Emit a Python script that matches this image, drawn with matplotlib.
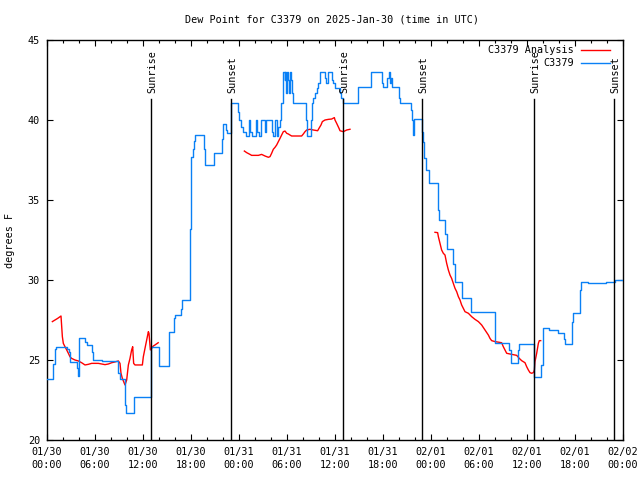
import matplotlib
matplotlib.use("Agg")
import matplotlib.pyplot as plt
import numpy as np

# ---------------- data (hours since 2025-01-30 00:00 UTC) ----------------
blue_hours = [0.0, 0.8, 0.95, 1.1, 2.5, 2.7, 2.9, 3.7, 3.85, 4.05, 4.8, 5.0, 5.6, 5.8,
              6.9, 8.9, 9.1, 9.75, 9.9, 10.9, 12.95, 13.05, 13.95, 15.25, 15.9, 16.0,
              16.7, 16.9, 17.9, 18.0, 18.2, 18.35, 18.55, 19.6, 19.75, 20.9, 21.9, 22.0,
              22.35, 22.5, 22.95, 23.05,
              23.9, 24.05, 24.3, 24.5, 24.85, 25.2, 25.4, 25.6, 26.1, 26.3, 26.5, 26.8,
              27.2, 27.35, 28.1, 28.3, 28.5, 28.7, 28.9, 29.1, 29.3, 29.5,
              29.7, 29.8, 29.9, 30.05, 30.15, 30.3, 30.4, 30.55, 30.65, 30.8, 30.95,
              32.4, 32.5, 32.95, 33.1, 33.3, 33.5, 33.7, 33.9, 34.1, 34.75, 34.9, 35.1,
              35.65, 35.8, 36.0, 36.6, 36.8, 37.05, 38.85, 40.45, 41.85, 42.0, 42.55,
              42.7, 42.85, 42.95, 43.1, 43.95, 44.1, 45.5, 45.6, 45.75, 45.9,
              46.85, 47.0, 47.15, 47.35, 47.75, 48.85, 49.05, 49.8, 50.0, 50.75, 50.95,
              51.85, 52.95, 55.95, 57.8, 57.95, 58.85, 58.95, 60.85, 61.8, 61.95,
              62.8, 63.85, 64.6, 64.75, 65.65, 65.8, 66.65, 66.8, 67.6, 69.9, 71.0, 72.0]
blue_dewpt = [23.8, 24.75, 25.7, 25.8, 25.7, 25.5, 24.9, 24.5, 24.0, 26.35, 26.1, 25.95, 25.5, 25.0,
              24.95, 24.2, 23.8, 22.2, 21.67, 22.67, 25.83, 25.83, 24.6, 26.77, 27.6, 27.8,
              28.2, 28.75, 33.2, 37.7, 38.2, 38.7, 39.06, 38.2, 37.19, 37.96, 38.8, 39.75,
              39.4, 39.2, 40.5, 41.04,
              40.52, 40.0, 39.58, 39.27, 39.02, 40.0, 39.27, 39.02, 40.0, 39.27, 39.02, 40.0,
              39.27, 40.0, 39.27, 39.02, 40.0, 39.02, 39.58, 40.0, 41.04, 43.0,
              42.5, 43.0, 41.7, 43.0, 42.5, 41.7, 43.0, 42.5, 41.7, 41.04, 41.04,
              40.0, 39.02, 40.0, 41.04, 41.35, 41.67, 41.98, 42.3, 43.0, 42.6, 42.3, 43.0,
              42.5, 42.3, 41.98, 41.67, 41.35, 41.04, 42.08, 43.02, 42.3, 42.08, 42.6,
              43.0, 42.3, 42.6, 42.08, 41.35, 41.04, 40.6, 40.0, 39.06, 40.04,
              39.27, 38.6, 37.6, 36.9, 36.04, 34.4, 33.75, 32.9, 31.92, 31.0, 29.85,
              28.85, 27.98, 26.04, 25.6, 24.8, 25.6, 26.0, 23.96, 24.69, 26.98,
              26.875, 26.67, 26.3, 26.0, 27.4, 27.92, 29.375, 29.85, 29.8, 29.85, 30.0, 30.0]

red1_hours = [0.67, 1.0, 1.33, 1.75, 1.92, 2.04, 2.25, 2.46, 2.67, 2.875, 3.08, 3.5, 3.92,
              4.33, 4.75, 5.17, 5.58, 6.42, 7.25, 7.67, 8.08, 8.5, 8.92, 9.125, 9.25, 9.42,
              9.75, 9.96, 10.17, 10.375, 10.58, 10.71, 10.83, 11.0, 11.92, 12.04, 12.25,
              12.46, 12.67, 12.75, 12.92, 13.08, 13.29, 13.5, 13.9]
red1_dewpt = [27.4, 27.5, 27.6, 27.75, 26.46, 26.04, 25.83, 25.63, 25.42, 25.2, 25.1, 25.0, 24.94,
              24.83, 24.69, 24.73, 24.79, 24.79, 24.71, 24.75, 24.83, 24.88, 24.94, 24.79, 24.17, 23.85,
              23.44, 23.75, 24.69, 25.1, 25.63, 25.83, 24.79, 24.69, 24.69, 25.2, 25.73,
              26.25, 26.77, 26.67, 25.63, 25.73, 25.875, 25.94, 26.08]

red2_hours = [24.67, 24.96, 25.375, 25.58, 26.42, 26.83, 27.25, 27.67, 27.875, 28.08, 28.29,
              28.5, 28.71, 28.92, 29.125, 29.33, 29.54, 29.75, 29.96, 30.17, 30.375, 30.58,
              31.83, 32.04, 32.25, 32.46, 32.875, 33.29, 33.83, 34.0, 34.25, 34.42, 34.75,
              35.17, 35.58, 35.92, 36.0, 36.21, 36.5, 36.625, 37.04, 37.46, 37.875]
red2_dewpt = [38.06, 37.96, 37.85, 37.79, 37.79, 37.85, 37.75, 37.67, 37.71, 37.92, 38.17,
              38.29, 38.44, 38.65, 38.85, 39.06, 39.27, 39.31, 39.17, 39.125, 39.06, 39.0,
              39.0, 39.125, 39.27, 39.375, 39.42, 39.375, 39.33, 39.48, 39.69, 39.9, 40.0,
              40.04, 40.06, 40.15, 40.0, 39.79, 39.48, 39.33, 39.27, 39.375, 39.42]

red3_hours = [48.5, 48.83, 48.92, 49.125, 49.33, 49.54, 49.75, 49.96, 50.17, 50.375, 50.58,
              50.79, 51.0, 51.21, 51.42, 51.625, 51.83, 52.04, 52.25, 52.67, 53.08, 53.5,
              53.92, 54.33, 54.75, 55.17, 55.375, 55.58, 56.0, 56.83, 57.04, 57.25, 57.46,
              57.875, 58.71, 59.04, 59.33, 59.75, 59.96, 60.17, 60.375, 60.58, 60.79,
              60.92, 61.0, 61.21, 61.42, 61.54, 61.71]
red3_dewpt = [32.98, 32.96, 32.71, 32.29, 31.875, 31.67, 31.56, 31.04, 30.625, 30.31, 30.1,
              29.79, 29.48, 29.27, 28.96, 28.75, 28.44, 28.23, 28.02, 27.92, 27.71, 27.54,
              27.4, 27.19, 26.875, 26.56, 26.35, 26.21, 26.15, 26.08, 25.83, 25.625, 25.42,
              25.375, 25.29, 25.1, 24.96, 24.83, 24.58, 24.375, 24.21, 24.17, 24.21,
              24.375, 24.9, 25.42, 26.04, 26.21, 26.21]

sun_labels = ["Sunrise", "Sunset", "Sunrise", "Sunset", "Sunrise", "Sunset"]
sun_hours = [13.04, 23.04, 37.04, 46.9, 60.9, 70.9]

xtick_hours = list(range(0, 73, 6))
xtick_labels = ["01/30\n00:00", "01/30\n06:00", "01/30\n12:00", "01/30\n18:00",
                "01/31\n00:00", "01/31\n06:00", "01/31\n12:00", "01/31\n18:00",
                "02/01\n00:00", "02/01\n06:00", "02/01\n12:00", "02/01\n18:00",
                "02/02\n00:00"]
ytick_vals = [20, 25, 30, 35, 40, 45]

# ---------------- figure ----------------
FONT = "DejaVu Sans Mono"
FS = 7.3
plt.rcParams["font.family"] = [FONT]

fig = plt.figure(figsize=(6.4, 4.8), dpi=100)
ax = fig.add_axes([47 / 640, 40 / 480, 576 / 640, 400 / 480])

RED = "#ff0000"
BLUE = "#0a80f5"

for hh, vv in [(red1_hours, red1_dewpt), (red2_hours, red2_dewpt), (red3_hours, red3_dewpt)]:
    ax.plot(hh, vv, color=RED, lw=1.0, zorder=3)
ax.plot(blue_hours, blue_dewpt, color=BLUE, lw=1.0, drawstyle="steps-post", zorder=3)

for lab, h in zip(sun_labels, sun_hours):
    ax.plot([h, h], [0, 0.8525], color="black", lw=1.0,
            transform=ax.get_xaxis_transform(), zorder=4)
    ax.text(h + 0.15, 0.868, lab, rotation=90, ha="center", va="bottom",
            transform=ax.get_xaxis_transform(), fontsize=FS, family=FONT)

ax.set_xlim(0, 72)
ax.set_ylim(20, 45)
ax.set_xticks(xtick_hours)
ax.set_xticklabels(xtick_labels, fontsize=FS, linespacing=1.35, family=FONT)
ax.set_xticks(np.arange(0, 73, 2), minor=True)
ax.set_yticks(ytick_vals)
ax.set_yticklabels([str(v) for v in ytick_vals], fontsize=FS, family=FONT)
ax.tick_params(which="major", direction="in", length=4.5, width=0.8,
               top=True, right=True, pad=5)
ax.tick_params(which="minor", direction="in", length=2.2, width=0.8,
               top=True, right=False)
ax.tick_params(axis="y", which="minor", left=False, right=False)
for s in ax.spines.values():
    s.set_linewidth(1.0)
    s.set_color("black")

# title and y label
fig.text(332 / 640, 1 - 19 / 480, "Dew Point for C3379 on 2025-Jan-30 (time in UTC)",
         ha="center", va="center", fontsize=FS, family=FONT)
fig.text(10 / 640, 0.5, "degrees F", rotation=90, ha="center", va="center",
         fontsize=FS, family=FONT)

# legend (gnuplot style)
leg_names = ["C3379 Analysis", "C3379"]
leg_colors = [RED, BLUE]
for i, (nm, col) in enumerate(zip(leg_names, leg_colors)):
    yy = 1 - (50 + 13 * i) / 480
    fig.text(574 / 640, yy, nm, ha="right", va="center", fontsize=FS, family=FONT)
    fig.add_artist(plt.Line2D([581 / 640, 610 / 640], [yy, yy], color=col, lw=1.0,
                              transform=fig.transFigure))

fig.savefig("out.png", dpi=100)
